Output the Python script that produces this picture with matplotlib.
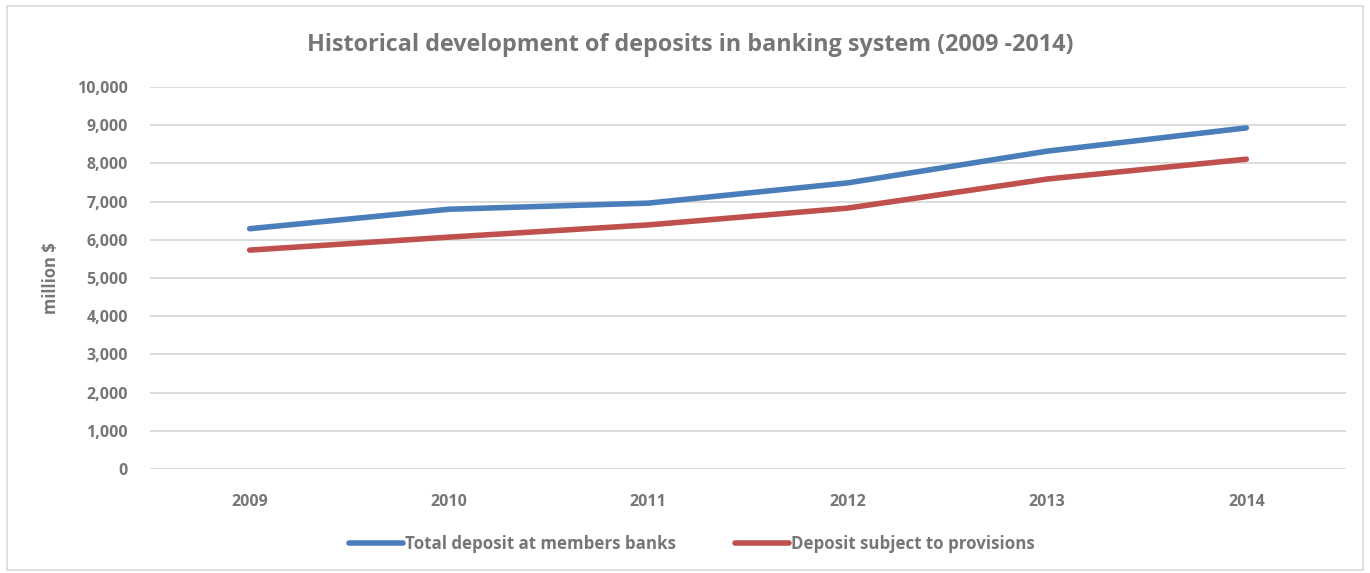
import matplotlib
matplotlib.use('Agg')
import matplotlib.pyplot as plt
from matplotlib.patches import Rectangle
from matplotlib.ticker import FuncFormatter

years = ['2009', '2010', '2011', '2012', '2013', '2014']
total_deposit = [6290, 6800, 6960, 7490, 8320, 8930]
provisions_deposit = [5730, 6070, 6390, 6830, 7590, 8110]
yticks = [0, 1000, 2000, 3000, 4000, 5000, 6000, 7000, 8000, 9000, 10000]

text_grey = '#767676'
blue = '#4a7ebb'
red = '#c0504d'

plt.rcParams['font.family'] = ['Open Sans', 'DejaVu Sans']

fig = plt.figure(figsize=(13.7, 5.73), dpi=100)
fig.patches.append(Rectangle((0.005, 0.005), 0.99, 0.985, transform=fig.transFigure,
                             fill=False, edgecolor='#d9d9d9', linewidth=1.2))

ax = fig.add_axes([150 / 1370, 1 - 469 / 573, 1196 / 1370, 382 / 573])
x = range(len(years))
ax.plot(x, total_deposit, color=blue, linewidth=4, solid_capstyle='round',
        label='Total deposit at members banks')
ax.plot(x, provisions_deposit, color=red, linewidth=4, solid_capstyle='round',
        label='Deposit subject to provisions')

ax.set_xlim(-0.5, len(years) - 0.5)
ax.set_ylim(0, 10000)
ax.set_xticks(list(x))
ax.set_xticklabels(years)
ax.set_yticks(yticks)
ax.yaxis.set_major_formatter(FuncFormatter(lambda v, p: f'{int(v):,}'))
ax.grid(axis='y', color='#d9d9d9', linewidth=1.3)
ax.set_axisbelow(True)
for s in ax.spines.values():
    s.set_visible(False)
ax.tick_params(length=0, labelsize=11.5, labelcolor=text_grey, pad=16)
ax.tick_params(axis='x', pad=18)
for lab in ax.get_xticklabels() + ax.get_yticklabels():
    lab.set_fontweight('bold')

ax.set_ylabel('million $', fontsize=12, fontweight='bold', color=text_grey, labelpad=12)
fig.text(0.504, 1 - 45 / 573, 'Historical development of deposits in banking system (2009 -2014)',
         ha='center', va='center', fontsize=16.8, fontweight='bold', color=text_grey)

leg = fig.legend(loc='center', bbox_to_anchor=(0.505, 1 - 544 / 573), ncol=2, frameon=False,
                 handlelength=3.2, handletextpad=0.1, columnspacing=3.5,
                 prop={'size': 12.2, 'weight': 'bold'})
for t in leg.get_texts():
    t.set_color(text_grey)

fig.savefig('out.png', dpi=100)
